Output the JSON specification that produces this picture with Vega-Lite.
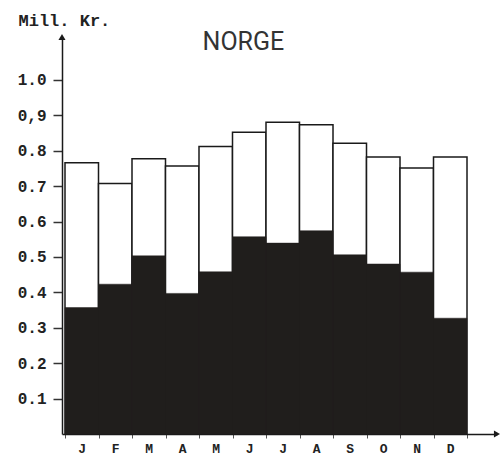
{
  "$schema": "https://vega.github.io/schema/vega-lite/v6.json",
  "width": 435,
  "height": 397,
  "autosize": "none",
  "padding": {"left": 62, "top": 37, "right": 3, "bottom": 22},
  "background": "white",
  "config": {
    "view": {"stroke": null},
    "axis": {"grid": false}
  },
  "layer": [
    {
      "data": {
        "values": [
          {"month": "J", "idx": 1, "total": 0.766, "dark": 0.357},
          {"month": "F", "idx": 2, "total": 0.707, "dark": 0.423},
          {"month": "M", "idx": 3, "total": 0.777, "dark": 0.503},
          {"month": "A", "idx": 4, "total": 0.757, "dark": 0.397},
          {"month": "M ", "idx": 5, "total": 0.812, "dark": 0.458},
          {"month": "J ", "idx": 6, "total": 0.852, "dark": 0.557},
          {"month": "J  ", "idx": 7, "total": 0.880, "dark": 0.539},
          {"month": "A ", "idx": 8, "total": 0.873, "dark": 0.574},
          {"month": "S", "idx": 9, "total": 0.821, "dark": 0.506},
          {"month": "O", "idx": 10, "total": 0.782, "dark": 0.480},
          {"month": "N", "idx": 11, "total": 0.751, "dark": 0.457},
          {"month": "D", "idx": 12, "total": 0.782, "dark": 0.327}
        ]
      },
      "layer": [
        {
          "mark": {"type": "bar", "fill": "white", "stroke": "#1a1a1a", "strokeWidth": 1.5},
          "encoding": {
            "x": {
              "field": "month",
              "type": "ordinal",
              "sort": null,
              "scale": {"paddingInner": 0, "paddingOuter": 0.4925, "align": 0.091},
              "axis": {
                "title": null,
                "labelAngle": 0,
                "labelExpr": "trim(datum.label)",
                "labelFont": "Liberation Mono, DejaVu Sans Mono, monospace",
                "labelFontSize": 13,
                "labelFontWeight": "bold",
                "labelColor": "#222222",
                "labelBaseline": "top",
                "labelPadding": 4,
                "tickBand": "extent",
                "tickSize": 4,
                "tickColor": "#555555",
                "tickWidth": 1,
                "domainColor": "#1a1a1a",
                "domainWidth": 1.5
              }
            },
            "y": {
              "field": "total",
              "type": "quantitative",
              "scale": {"domain": [0, 1.121], "nice": false, "zero": true},
              "axis": {
                "values": [0.1, 0.2, 0.3, 0.4, 0.5, 0.6, 0.7, 0.8, 0.9, 1.0],
                "labelExpr": "datum.value > 0.85 && datum.value < 0.95 ? '0,9' : format(datum.value, '.1f')",
                "labelFont": "Liberation Mono, DejaVu Sans Mono, monospace",
                "labelFontSize": 16,
                "labelFontWeight": "bold",
                "labelColor": "#222222",
                "labelPadding": 7,
                "tickSize": 9,
                "tickWidth": 1.5,
                "tickColor": "#333333",
                "domainColor": "#1a1a1a",
                "domainWidth": 1.5,
                "title": "Mill. Kr.",
                "titleAngle": 0,
                "titleAlign": "left",
                "titleBaseline": "alphabetic",
                "titleX": -44,
                "titleY": -12,
                "titleFont": "Liberation Mono, DejaVu Sans Mono, monospace",
                "titleFontSize": 17,
                "titleFontWeight": "bold",
                "titleColor": "#222222"
              }
            }
          }
        },
        {
          "mark": {"type": "bar", "fill": "#201e1c", "stroke": "#201e1c", "strokeWidth": 0.5},
          "encoding": {
            "x": {"field": "month", "type": "ordinal", "sort": null},
            "y": {"field": "dark", "type": "quantitative"}
          }
        }
      ]
    },
    {
      "data": {"values": [{"px": 0, "py": 1.121, "shape": "triangle-up"}, {"px": 1, "py": 0, "shape": "triangle-right"}]},
      "mark": {"type": "point", "filled": true, "color": "#1a1a1a", "size": 50, "opacity": 1},
      "encoding": {
        "x": {"field": "px", "type": "quantitative", "scale": {"domain": [0, 1], "nice": false}, "axis": null},
        "y": {"field": "py", "type": "quantitative"},
        "shape": {"field": "shape", "type": "nominal", "scale": null}
      }
    },
    {
      "data": {"values": [{"label": "NORGE", "px": 0.417, "py": 1.085}]},
      "mark": {
        "type": "text",
        "font": "Roboto, sans-serif",
        "fontSize": 25,
        "fontWeight": "normal",
        "color": "#333333",
        "align": "center",
        "baseline": "alphabetic"
      },
      "encoding": {
        "x": {"field": "px", "type": "quantitative", "scale": {"domain": [0, 1], "nice": false}, "axis": null},
        "y": {"field": "py", "type": "quantitative"},
        "text": {"field": "label"}
      }
    }
  ],
  "resolve": {"scale": {"x": "independent"}}
}
